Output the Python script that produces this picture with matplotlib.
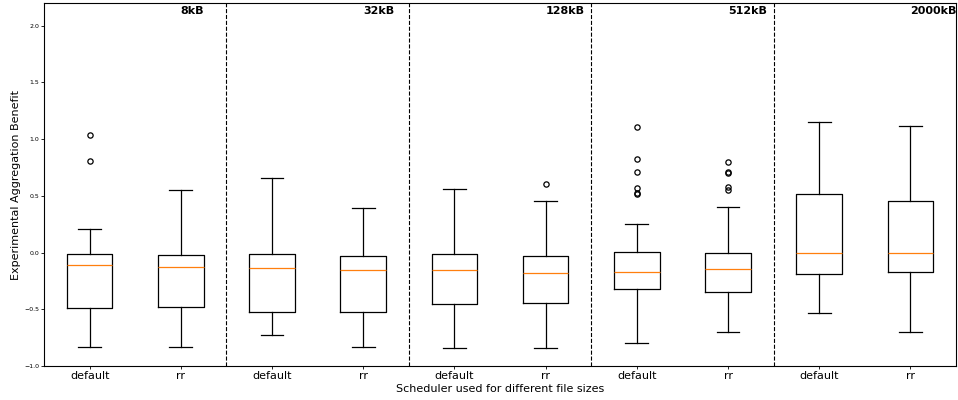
import matplotlib
matplotlib.use("Agg")
import matplotlib.pyplot as plt

sizes = ["8kB", "32kB", "128kB", "512kB", "2000kB"]
schedulers = ["default", "rr"]

# per box (default, rr for each size): whislo, q1, med, q3, whishi, fliers
whislo = [-0.830, -0.832, -0.729, -0.835, -0.844, -0.841, -0.797, -0.703, -0.535, -0.703]
q1     = [-0.486, -0.482, -0.526, -0.526, -0.450, -0.444, -0.318, -0.345, -0.186, -0.174]
med    = [-0.109, -0.129, -0.138, -0.156, -0.156, -0.177, -0.171, -0.147, -0.003, -0.003]
q3     = [-0.012, -0.018, -0.015, -0.027, -0.009, -0.032, 0.009, -0.003, 0.515, 0.456]
whishi = [0.206, 0.550, 0.656, 0.397, 0.556, 0.456, 0.256, 0.403, 1.150, 1.115]
fliers = [
    [1.032, 0.806],
    [],
    [],
    [],
    [],
    [0.606],
    [1.103, 0.821, 0.712, 0.568, 0.529, 0.512],
    [0.802, 0.712, 0.703, 0.574, 0.553],
    [],
    [],
]

stats = []
for i in range(len(med)):
    stats.append(dict(whislo=whislo[i], q1=q1[i], med=med[i], q3=q3[i],
                      whishi=whishi[i], fliers=fliers[i]))

fig = plt.figure(figsize=(9.58, 4.0), dpi=100)
ax = fig.add_axes([0.046, 0.085, 0.952, 0.9075])
positions = list(range(1, len(stats) + 1))
ax.bxp(stats, positions=positions, widths=0.5,
       boxprops=dict(linewidth=0.9), whiskerprops=dict(linewidth=0.9),
       capprops=dict(linewidth=0.9), medianprops=dict(linewidth=0.9),
       flierprops=dict(marker='o', markersize=3.8, markerfacecolor='none',
                       markeredgecolor='black', markeredgewidth=0.9))

ax.set_xlim(0.5, len(stats) + 0.5)
ax.set_ylim(-1.0, 2.2)
ax.set_xticks(positions)
ax.set_xticklabels(schedulers * len(sizes), fontsize=8)
ax.set_yticks([-1.0, -0.5, 0.0, 0.5, 1.0, 1.5, 2.0])
ax.tick_params(axis='y', labelsize=4.5, length=2, width=0.6, pad=1.5)
ax.tick_params(axis='x', length=2, width=0.6, pad=1.5)
for sp in ax.spines.values():
    sp.set_linewidth(0.8)

for k in range(1, len(sizes)):
    ax.axvline(2 * k + 0.5, color='black', linestyle='--', linewidth=0.8)

for k, s in enumerate(sizes):
    ax.text(2 * k + 2, 2.105, s, fontsize=8, fontweight='bold', ha='left')

ax.set_xlabel("Scheduler used for different file sizes", fontsize=8, labelpad=2)
ax.set_ylabel("Experimental Aggregation Benefit", fontsize=8, labelpad=2.5)

fig.savefig("out.png", dpi=100)
